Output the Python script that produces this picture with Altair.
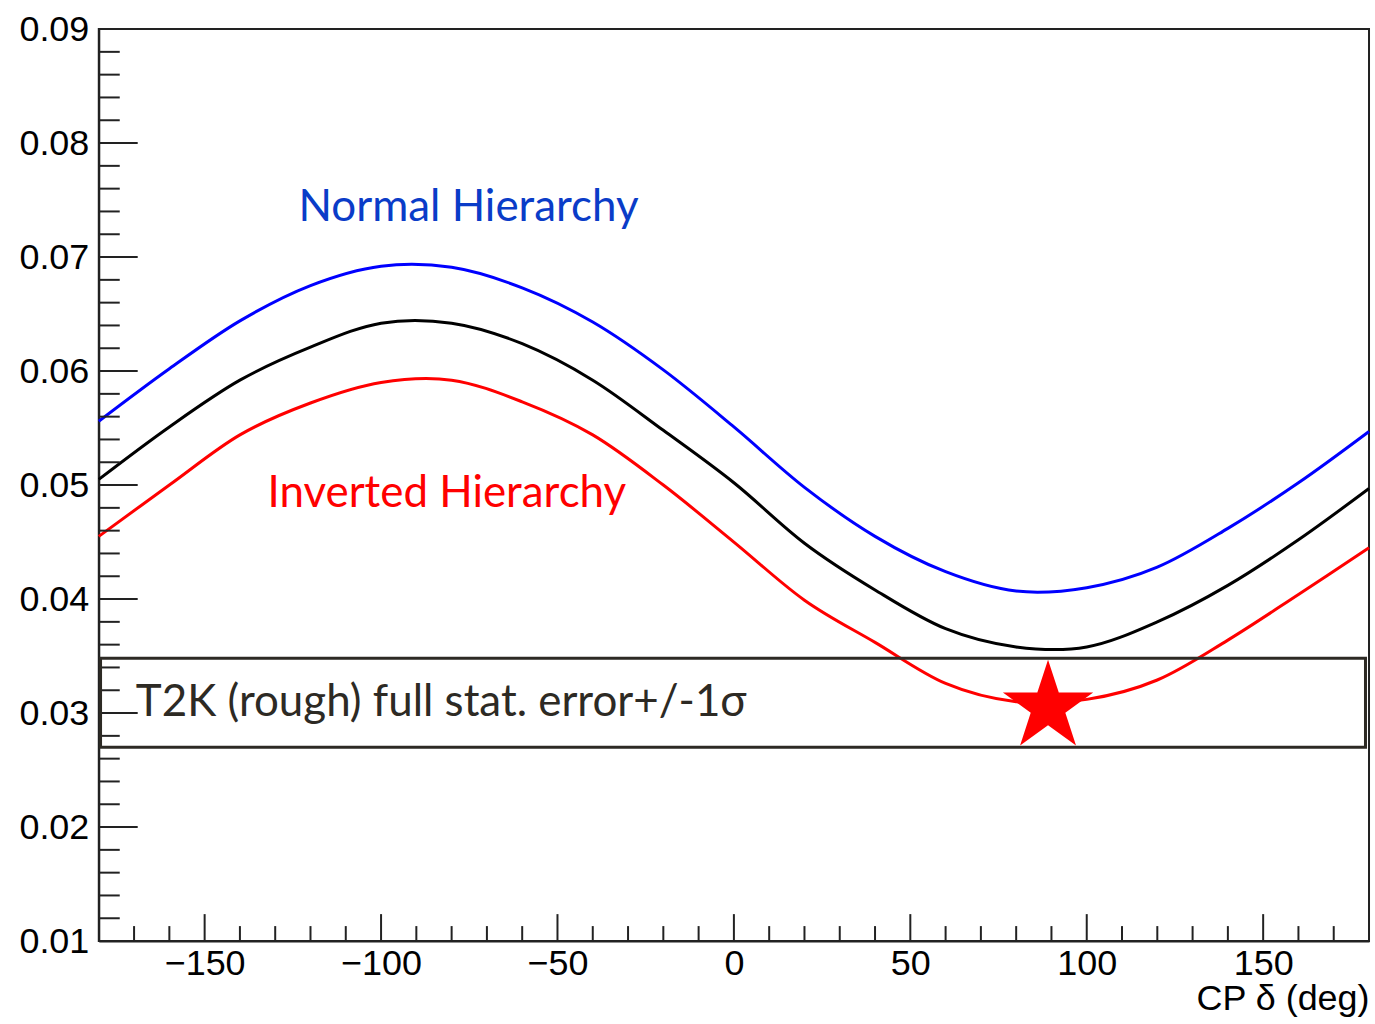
import altair as alt
import pandas as pd

# CP delta (deg)
delta = [-180, -160, -140, -120, -100, -80, -60, -40, -20, 0, 20, 40, 60, 80, 100, 120, 140, 160, 180]
normal = [0.0556, 0.0602, 0.0644, 0.0675, 0.0692, 0.0691, 0.0673, 0.0643, 0.0601, 0.0551,
          0.0498, 0.0455, 0.0424, 0.0407, 0.0410, 0.0428, 0.0462, 0.0502, 0.0547]
central = [0.0505, 0.0551, 0.0592, 0.0621, 0.0642, 0.0642, 0.0624, 0.0592, 0.0548, 0.0502,
           0.0449, 0.0408, 0.0374, 0.0358, 0.0358, 0.0380, 0.0412, 0.0452, 0.0497]
inverted = [0.0455, 0.0500, 0.0544, 0.0572, 0.0590, 0.0592, 0.0573, 0.0544, 0.0500, 0.0450,
            0.0399, 0.0362, 0.0326, 0.0310, 0.0312, 0.0329, 0.0364, 0.0404, 0.0445]

series_names = ["Normal", "Central", "Inverted"]
series_colors = ["#0000ff", "#000000", "#ff0000"]

# T2K band
band_x = [-179.5, 179.0]
band_y = [0.0270, 0.0348]
star_x = [89]
star_y = [0.0303]

# annotations
ann_text = ["Normal Hierarchy", "Inverted Hierarchy", "T2K (rough) full stat. error+/-1\u03c3"]
ann_x = [-123.4, -132.2, -169.5]
ann_y = [0.0732, 0.0481, 0.0297]
ann_color = ["#0a3cc8", "#ff0000", "#2d2a24"]
ann_size = [44, 44, 44]

# ticks
x_major = [-150, -100, -50, 0, 50, 100, 150]
x_minor = [v for v in range(-170, 180, 10) if v not in x_major]
y_major = [0.01, 0.02, 0.03, 0.04, 0.05, 0.06, 0.07, 0.08, 0.09]
y_minor = [round(0.01 + 0.002 * i, 3) for i in range(41) if i % 5 != 0]

X0, X1, Y0, Y1 = -180, 180, 0.01, 0.09
W, H = 1273, 914
xu = (X1 - X0) / W
yu = (Y1 - Y0) / H

rows = []
for name, vals in zip(series_names, [normal, central, inverted]):
    for d, v in zip(delta, vals):
        rows.append({"x": d, "y": v, "series": name})
df = pd.DataFrame(rows)

xscale = alt.Scale(domain=[X0, X1], nice=False, zero=False)
yscale = alt.Scale(domain=[Y0, Y1], nice=False, zero=False)

FONT = "Liberation Sans"
XTITLE = "CP \u03b4 (deg)"

xaxis = alt.Axis(orient="bottom", values=x_major, ticks=False, grid=False, format="d",
                 labelFont=FONT, labelFontSize=36, labelColor="#000",
                 labelPadding=6, labelFlush=False, labelOverlap=False,
                 domainColor="#222", domainWidth=2,
                 titleFont=FONT, titleFontSize=36,
                 titleFontWeight="normal", titleColor="#000",
                 titleAnchor="end", titlePadding=0)
yaxis = alt.Axis(orient="left", values=y_major, ticks=False, grid=False, format=".2f",
                 labelFont=FONT, labelFontSize=36, labelColor="#000",
                 labelPadding=10, labelFlush=False, labelOverlap=False,
                 domainColor="#222", domainWidth=2)


def X(field="x"):
    return alt.X(f"{field}:Q", scale=xscale, axis=xaxis, title=XTITLE)


def Y(field="y"):
    return alt.Y(f"{field}:Q", scale=yscale, axis=yaxis, title=None)


lines = alt.Chart(df).mark_line(strokeWidth=3, interpolate="cardinal").encode(
    x=X(), y=Y(),
    color=alt.Color("series:N", scale=alt.Scale(domain=series_names, range=series_colors), legend=None),
)

band_df = pd.DataFrame({"x": [band_x[0]], "x2": [band_x[1]], "y": [band_y[0]], "y2": [band_y[1]]})
band = alt.Chart(band_df).mark_rect(fillOpacity=0, stroke="#2d2a24", strokeWidth=3).encode(
    x=X(), x2="x2:Q", y=Y(), y2="y2:Q",
)

ann_df = pd.DataFrame({"x": ann_x, "y": ann_y, "t": ann_text, "c": ann_color, "s": ann_size})
ann = alt.Chart(ann_df).mark_text(align="left", baseline="alphabetic", font="Lato").encode(
    x=X(), y=Y(), text="t:N",
    color=alt.Color("c:N", scale=None),
    size=alt.Size("s:Q", scale=None),
)

star_df = pd.DataFrame({"x": star_x, "y": star_y, "t": ["\u2605"]})
star = alt.Chart(star_df).mark_text(
    align="center", baseline="middle", font="DejaVu Sans", fontSize=118, color="#ff0000"
).encode(x=X(), y=Y(), text="t:N")

tick_rows = []
for v in y_major:
    tick_rows.append({"x": X0, "x2": X0 + 39 * xu, "y": v, "y2": v})
for v in y_minor:
    tick_rows.append({"x": X0, "x2": X0 + 21 * xu, "y": v, "y2": v})
for v in x_major:
    tick_rows.append({"x": v, "x2": v, "y": Y0, "y2": Y0 + 27 * yu})
for v in x_minor:
    tick_rows.append({"x": v, "x2": v, "y": Y0, "y2": Y0 + 15 * yu})
ticks = alt.Chart(pd.DataFrame(tick_rows)).mark_rule(color="#222", strokeWidth=2).encode(
    x=X(), x2="x2:Q", y=Y(), y2="y2:Q")

chart = alt.layer(lines, ticks, band, star, ann).properties(
    width=W, height=H,
    padding={"left": 18, "top": 10, "right": 0, "bottom": 2},
).configure_view(stroke="#222", strokeWidth=2)

chart.save("out.html", embed_options={"renderer": "svg", "actions": False})
